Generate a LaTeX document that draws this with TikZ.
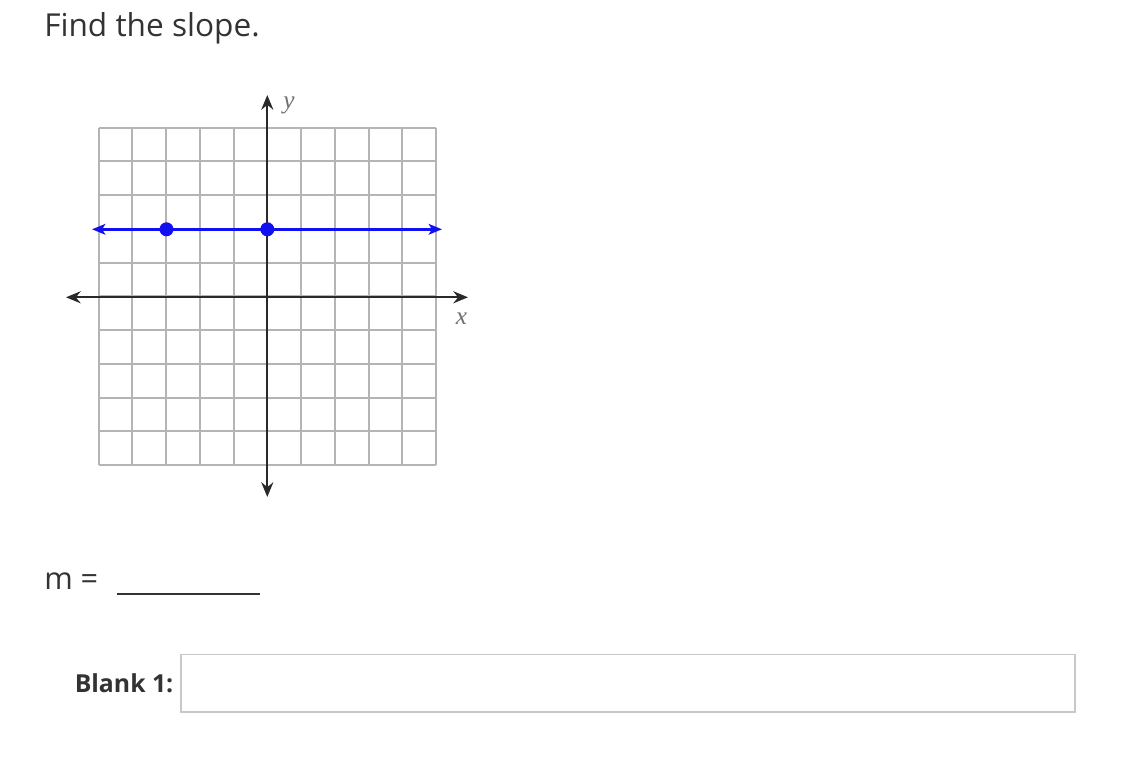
\documentclass[tikz,border=0pt]{standalone}
\usepackage{fontspec}
\setmainfont{Open Sans}
\newfontfamily\serifit{Liberation Serif}
\usetikzlibrary{arrows.meta}
\definecolor{txt}{HTML}{333333}
\definecolor{gridc}{HTML}{B4B4B4}
\definecolor{boxc}{HTML}{C8C8C8}
\definecolor{lineblue}{HTML}{1010F0}
\tikzset{
  gridline/.style={gridc, line width=1.5pt},
  axis/.style={txt!80!black, line width=1.6pt, {Stealth[length=11pt,width=9pt]}-{Stealth[length=11pt,width=9pt]}},
  bluel/.style={lineblue, line width=2.2pt, {Stealth[length=10pt,width=8pt,inset=2.5pt]}-{Stealth[length=10pt,width=8pt,inset=2.5pt]}},
  dot/.style={circle, fill=lineblue, inner sep=0pt, minimum size=10.5pt},
  lbl/.style={text=txt, inner sep=0pt, anchor=base west},
  axlbl/.style={text=txt!70, inner sep=0pt, font=\serifit\itshape\fontsize{19}{19}\selectfont},
}
\begin{document}
\begin{tikzpicture}[x=0.75pt,y=-0.75pt]
\useasboundingbox (0,0) rectangle (1122,759);
\node[lbl, font=\fontsize{23.7}{28}\selectfont] (title) at (44,37) {Find the slope.};
% grid
\foreach \i in {0,...,10} {
  \draw[gridline] (98.5+33.75*\i,127.7) -- (98.5+33.75*\i,465);
  \draw[gridline] (98.5,127.7+33.73*\i) -- (436,127.7+33.73*\i);
}
\coordinate (xl) at (66,297.3);
\coordinate (xr) at (468,297.3);
\coordinate (yt) at (267.3,95);
\coordinate (yb) at (267.3,497);
\draw[axis] (xl) -- (xr);
\draw[axis] (yb) -- (yt);
\node[axlbl] (ylab) at (289,105) {y};
\node[axlbl] (xlab) at (461.5,319) {x};
% blue line
\coordinate (bl) at (92,229.3);
\coordinate (br) at (442,229.3);
\draw[bluel] (bl) -- (br);
\node[dot] (p1) at (166.5,229.3) {};
\node[dot] (p2) at (267.3,229.3) {};
% answer
\node[lbl, font=\fontsize{23}{28}\selectfont] (m) at (44,589) {m =};
\coordinate (u1) at (117,594);
\coordinate (u2) at (259.5,594);
\draw[txt, line width=1.4pt] (u1) -- (u2);
\node[lbl, font=\bfseries\fontsize{18.6}{24}\selectfont] (blank) at (74.5,692.5) {Blank 1:};
\draw[boxc, line width=1.4pt] (181,654.5) rectangle (1075,712);
\end{tikzpicture}
\end{document}
